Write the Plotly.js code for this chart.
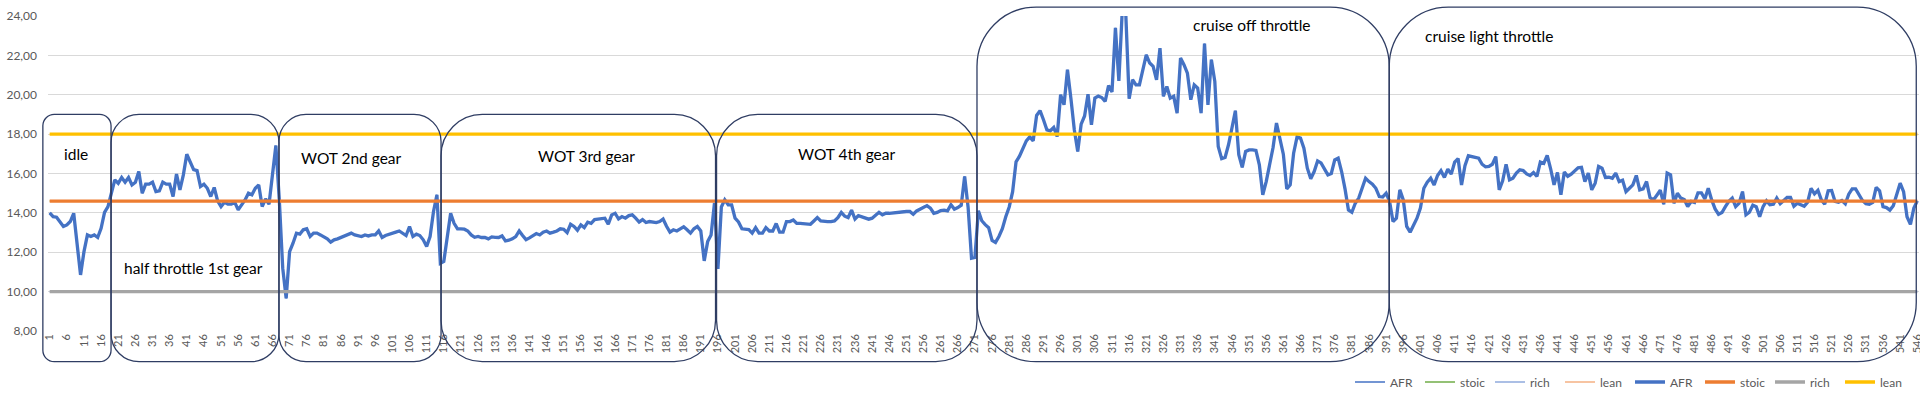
<!DOCTYPE html>
<html>
<head>
<meta charset="utf-8">
<script src="https://cdn.plot.ly/plotly-3.0.1.min.js"></script>
<style>
html,body{margin:0;padding:0;background:#fff;}
#chart{width:1920px;height:398px;}
</style>
</head>
<body>
<div id="chart"></div>
<script>
// ---- data (AFR readings per sample, split by driving phase) ----
const afrIdle = [14.0,13.81,13.78,13.56,13.31,13.39,13.56,13.98,12.46,10.85,12.03,12.88,12.8,12.88,12.75,13.22,14.03,14.32];
const afrHalfThrottle1st = [15.0,15.68,15.5,15.8,15.56,15.8,15.42,15.56,16.1,15.0,15.46,15.46,15.56,15.08,15.12,15.56,15.46,15.46,14.83,15.97,15.17,15.93,16.98,16.61,16.2,16.15,15.34,15.46,15.25,14.83,15.29,14.61,14.32,14.54,14.44,14.44,14.54,14.15,14.41,14.66,15.0,14.92,15.25,15.42,14.32,14.71,14.44,15.93,17.42];
const afrWot2nd = [14.66,11.19,9.66,12.03,12.46,12.97,12.92,13.14,13.19,12.8,12.97,12.97,12.88,12.78,12.68,12.51,12.63,12.68,12.75,12.83,12.88,12.97,12.88,12.85,12.8,12.88,12.83,12.88,12.88,13.08,12.75,12.85,12.92,12.97,13.02,13.08,12.97,12.85,13.31,12.8,12.92,12.85,12.63,12.29,12.8,14.07,14.92,11.44];
const afrWot3rd = [11.53,12.88,13.98,13.47,13.19,13.19,13.17,13.08,12.88,12.76,12.8,12.75,12.75,12.68,12.78,12.76,12.75,12.83,12.58,12.61,12.68,12.8,13.08,12.85,12.64,12.73,12.83,12.95,12.88,13.02,13.08,12.97,13.02,13.08,13.19,13.17,13.0,13.42,13.31,13.12,13.39,13.25,13.53,13.47,13.66,13.69,13.69,13.73,13.42,13.9,13.98,13.69,13.81,13.73,13.86,13.9,13.73,13.53,13.66,13.51,13.56,13.54,13.51,13.56,13.69,13.32,13.02,13.14,13.08,13.19,13.29,13.14,12.97,13.19,13.31,13.08,11.56,12.54,12.88,14.5];
const afrWot4th = [11.15,14.3,14.66,14.41,14.41,13.73,13.54,13.19,13.19,13.15,12.97,13.25,12.97,12.97,13.25,13.08,13.08,13.46,13.02,13.02,13.56,13.56,13.64,13.47,13.47,13.44,13.42,13.42,13.59,13.76,13.59,13.56,13.56,13.56,13.59,13.76,14.02,13.83,13.76,14.14,13.69,13.86,13.8,13.75,13.68,13.73,13.86,14.03,13.9,13.98,13.98,14.0,14.03,14.07,14.07,14.07,14.07,13.93,14.1,14.2,14.31,14.37,14.24,13.98,14.02,14.12,14.14,14.1,14.41,14.19,14.27,14.39,15.85,14.3,11.7,11.74];
const afrCruiseOff = [14.1,13.6,13.4,13.25,12.6,12.5,12.8,13.2,13.8,14.3,15.08,16.59,16.88,17.29,17.66,17.86,17.66,18.95,19.19,18.73,18.22,18.17,18.34,17.88,20.0,19.49,21.27,19.83,18.22,17.12,18.51,18.92,20.03,18.47,19.83,19.93,19.86,19.66,20.47,20.14,23.4,20.7,24.3,24.2,19.8,20.76,20.5,20.5,21.36,22.03,21.61,21.44,20.76,22.37,19.92,20.42,19.83,19.92,19.07,21.86,21.53,21.1,19.75,20.5,20.34,19.07,22.6,19.49,21.78,20.68,17.37,16.75,16.81,17.46,18.31,19.19,16.95,16.31,17.12,17.2,17.2,17.17,16.44,14.92,15.59,16.47,17.32,18.56,17.8,16.98,15.22,15.42,17.03,17.86,17.8,17.29,16.27,15.73,16.1,16.64,16.54,16.19,15.93,16.0,16.69,16.78,16.1,15.22,14.15,14.03,14.49,14.75,15.25,15.76,15.59,15.46,15.25,14.83,14.81,15.0];
const afrCruiseLight = [14.58,13.56,13.73,15.17,14.66,13.31,13.02,13.39,13.73,14.24,15.25,15.56,15.76,15.42,15.9,16.14,15.8,16.22,15.97,16.58,16.76,15.42,16.4,16.9,16.86,16.83,16.78,16.47,16.34,16.36,16.47,16.86,15.17,15.63,16.47,15.68,15.76,16.02,16.19,16.15,15.98,15.9,16.05,15.85,16.58,16.51,16.92,16.24,15.42,16.05,14.92,16.07,15.86,15.97,16.14,16.29,16.31,15.59,16.02,15.17,15.51,16.36,16.27,15.8,15.81,15.76,16.02,15.59,15.66,15.08,15.25,15.42,15.9,15.17,15.22,15.59,14.78,14.66,14.9,15.15,14.44,16.02,15.93,14.49,15.0,14.75,14.68,14.32,14.58,14.53,15.02,15.02,14.71,15.25,14.66,14.2,13.93,14.02,14.32,14.59,14.75,14.32,14.49,15.08,13.9,14.03,14.39,14.31,13.81,14.32,14.61,14.41,14.44,14.75,14.47,14.64,14.78,14.78,14.34,14.49,14.41,14.34,14.54,15.25,14.97,15.15,14.66,14.44,15.12,15.14,14.58,14.54,14.63,14.46,14.95,15.22,15.22,14.92,14.63,14.47,14.44,14.53,15.29,15.12,14.32,14.27,14.14,14.36,14.88,15.51,15.08,13.8,13.42,14.24,14.61];

const stoicValue = 14.6;
const richValue = 10;
const leanValue = 18;

const seriesNames = ['AFR','stoic','rich','lean'];
const thinColors = ['#4472C4','#70AD47','#8FAADC','#F4B183'];
const thickColors = ['#4472C4','#ED7D31','#A5A5A5','#FFC000'];

// phase boxes (category / value units) and their labels
const phaseLabels = ['idle','half throttle 1st gear','WOT 2nd gear','WOT 3rd gear','WOT 4th gear','cruise off throttle','cruise light throttle'];
const phaseFrom   = [-1.0, 18.9, 67.9, 115.2, 195.6, 271.6, 391.9];
const phaseTo     = [18.9, 67.9, 115.2, 195.3, 271.6, 391.9, 545.7];
const phaseTop    = [19.0, 19.0, 19.0, 19.0, 19.0, 24.45, 24.45];
const phaseBottom = 6.44;
const labelCat    = [8.7, 43.1, 89.2, 157.5, 233.4, 351.9, 421.1];
const labelVal    = [17.0, 11.2, 16.8, 16.9, 17.0, 23.56, 23.0];

// ---- build ----
const afr = [].concat(afrIdle, afrHalfThrottle1st, afrWot2nd, afrWot3rd, afrWot4th, afrCruiseOff, afrCruiseLight);
const N = afr.length;
const categories = afr.map((_, i) => i + 1);
const tickVals = categories.filter(c => (c - 1) % 5 === 0);
const tickText = tickVals.map(String);
const seriesValues = [afr, categories.map(() => stoicValue), categories.map(() => richValue), categories.map(() => leanValue)];

const W = 1920, H = 398;
const M = {l: 48, r: 1, t: 16, b: 67};
const plotW = W - M.l - M.r, plotH = H - M.t - M.b;
const yMin = 8, yMax = 24;
const xMin = 0.5, xMax = N + 0.5;

const traces = [];
[1.5, 3.3].forEach((w, k) => {
  seriesNames.forEach((nm, i) => {
    traces.push({
      x: categories, y: seriesValues[i], name: nm, type: 'scatter', mode: 'lines',
      line: {color: (k === 0 ? thinColors : thickColors)[i], width: w},
      hoverinfo: 'skip'
    });
  });
});

const px = c => (c - xMin) / (xMax - xMin);
const py = v => (v - yMin) / (yMax - yMin);
const K = 0.5523;
const shapes = phaseLabels.map((_, i) => {
  const L = px(phaseFrom[i]), R = px(phaseTo[i]);
  const T = py(phaseTop[i]), B = py(phaseBottom);
  const wPx = (R - L) * plotW, hPx = (T - B) * plotH;
  const r = Math.min(wPx, hPx) / 6;
  const rx = r / plotW, ry = r / plotH;
  const p = [
    `M${L + rx},${T}`, `H${R - rx}`,
    `C${R - rx + K * rx},${T} ${R},${T - ry + K * ry} ${R},${T - ry}`,
    `V${B + ry}`,
    `C${R},${B + ry - K * ry} ${R - rx + K * rx},${B} ${R - rx},${B}`,
    `H${L + rx}`,
    `C${L + rx - K * rx},${B} ${L},${B + ry - K * ry} ${L},${B + ry}`,
    `V${T - ry}`,
    `C${L},${T - ry + K * ry} ${L + rx - K * rx},${T} ${L + rx},${T}`, 'Z'
  ].join(' ');
  return {type: 'path', xref: 'paper', yref: 'paper', path: p,
          line: {color: '#2F3D63', width: 1.3}, fillcolor: 'rgba(0,0,0,0)', layer: 'above'};
});

const annotations = phaseLabels.map((t, i) => ({
  text: t, x: labelCat[i], y: labelVal[i], xref: 'x', yref: 'y',
  showarrow: false, xanchor: 'center', yanchor: 'middle',
  font: {family: 'Lato, sans-serif', size: 15.5, color: '#000000'}
}));

const layout = {
  width: W, height: H,
  margin: {l: M.l, r: M.r, t: M.t, b: M.b, pad: 0, autoexpand: false},
  paper_bgcolor: '#ffffff', plot_bgcolor: '#ffffff',
  separators: ',.',
  font: {family: 'Lato, sans-serif', color: '#595959', size: 12},
  xaxis: {
    range: [xMin, xMax], tickmode: 'array', tickvals: tickVals, ticktext: tickText,
    tickangle: -90, tickfont: {size: 11, color: '#595959'}, ticklabeloverflow: 'allow',
    showgrid: false, zeroline: false, showline: false, ticks: '', automargin: false
  },
  yaxis: {
    range: [yMin, yMax], tick0: 8, dtick: 2, tickformat: '.2f',
    gridcolor: '#D9D9D9', gridwidth: 1, zeroline: false, showline: false, ticks: '',
    tickfont: {size: 12, color: '#595959'}, ticklabelstandoff: 10, automargin: false
  },
  showlegend: true,
  legend: {
    orientation: 'h', x: (1910 - M.l) / plotW, xanchor: 'right',
    y: -(382 - (H - M.b)) / plotH, yanchor: 'middle',
    font: {size: 12, color: '#595959'}, entrywidth: 25, entrywidthmode: 'pixels',
    traceorder: 'normal', bgcolor: 'rgba(0,0,0,0)'
  },
  shapes: shapes,
  annotations: annotations
};

Plotly.newPlot('chart', traces, layout, {staticPlot: true, displayModeBar: false});
</script>
</body>
</html>
